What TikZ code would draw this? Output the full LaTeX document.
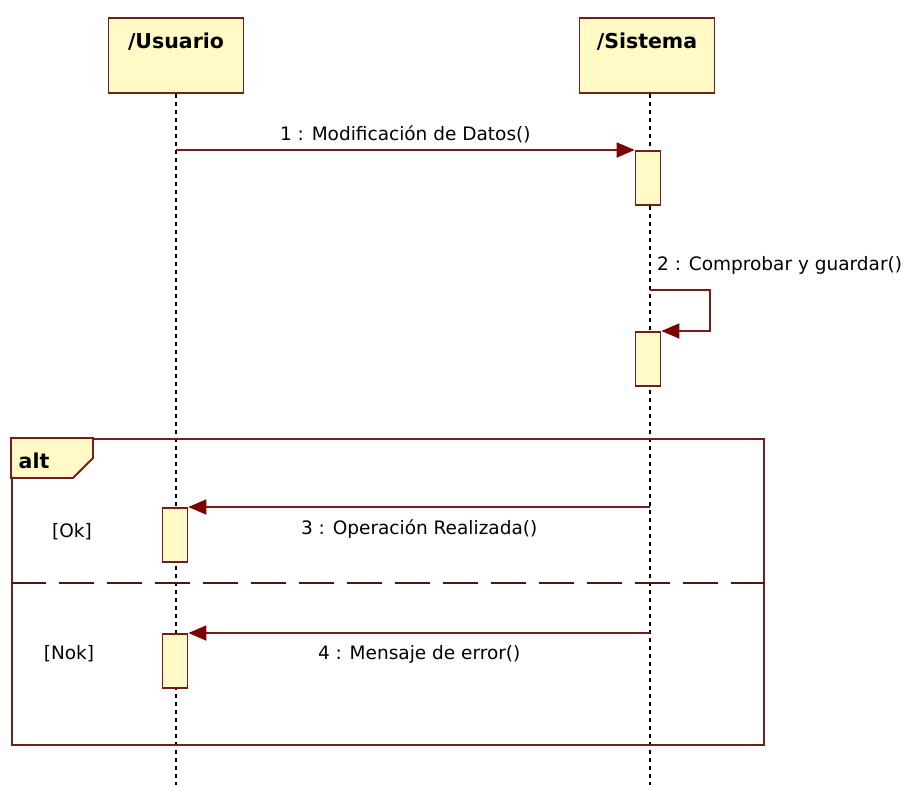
\documentclass[tikz,border=0pt]{standalone}
\usepackage{fontspec}
\setmainfont{DejaVu Sans}
\usetikzlibrary{arrows.meta, positioning, calc}
\definecolor{BoxYellow}{RGB}{255,250,198}
\definecolor{LineMaroon}{RGB}{115,30,30}
\definecolor{TipMaroon}{RGB}{125,0,0}
\tikzset{
  lifebox/.style={draw=LineMaroon, fill=BoxYellow, line width=1.8pt,
    minimum width=135pt, minimum height=75pt, anchor=north, inner sep=0pt},
  lifeline/.style={draw=black, line width=1.6pt, dash pattern=on 4pt off 4pt},
  actbox/.style={draw=LineMaroon, fill=BoxYellow, line width=1.8pt,
    minimum width=25pt, minimum height=54pt, anchor=north, inner sep=0pt},
  msg/.style={draw=LineMaroon, line width=1.8pt,
    -{Triangle[length=18pt, width=15pt, fill=TipMaroon, color=TipMaroon]}},
  msglabel/.style={font=\fontsize{18.5}{22}\selectfont, inner sep=2pt},
  titlefont/.style={font=\fontsize{20.5}{24}\selectfont\bfseries},
  altframe/.style={draw=LineMaroon, line width=1.8pt, anchor=north west,
    minimum width=752pt, minimum height=306pt, inner sep=0pt},
  guard/.style={font=\fontsize{18.5}{22}\selectfont}
}
\begin{document}
\begin{tikzpicture}[x=1pt, y=-1pt]
  \useasboundingbox (0,0) rectangle (916,785);

  % participants
  \node[lifebox, label={[titlefont, anchor=north, yshift=-12pt]north:/Usuario}] (usr) at (176,17) {};
  \node[lifebox, label={[titlefont, anchor=north, yshift=-12pt]north:/Sistema}] (sys) at (647,17) {};
  \coordinate (usrEnd) at (176,785);
  \coordinate (sysEnd) at (650,785);
  \draw[lifeline] (usr.south -| usrEnd) -- (usrEnd);
  \draw[lifeline] (sys.south -| sysEnd) -- (sysEnd);

  % alt fragment
  \node[altframe] (alt) at (11,438) {};
  \draw[draw=LineMaroon, line width=1.8pt, fill=BoxYellow]
    (alt.north west) -- ++(82,0) -- ++(0,20) -- ++(-20,20) -- ++(-62,0) -- cycle;
  \node[titlefont] (altlbl) at (34,461) {alt};
  \draw[draw=LineMaroon!70!black, line width=1.8pt, dash pattern=on 35pt off 13pt]
    (alt.west |- 0,583) -- (alt.east |- 0,583);
  \node[guard] (ok) at (72,532) {[Ok]};
  \node[guard] (nok) at (69,654) {[Nok]};

  % activations
  \node[actbox] (a1) at (648,150) {};
  \node[actbox] (a2) at (648,331) {};
  \node[actbox] (a3) at (175,507) {};
  \node[actbox] (a4) at (175,633) {};

  % messages
  \draw[msg] (usrEnd |- a1.north west) -- (a1.north west)
    node[msglabel, midway, above=4pt] {1 : Modificación de Datos()};
  \coordinate (self2) at (650,290);
  \draw[msg] (self2) -- ++(60,0) |- (a2.north east);
  \node[msglabel, anchor=base west] (l2) at (655,270) {2 : Comprobar y guardar()};
  \draw[msg] (sysEnd |- a3.north east) -- (a3.north east)
    node[msglabel, midway, below=10pt] {3 : Operación Realizada()};
  \draw[msg] (sysEnd |- a4.north east) -- (a4.north east)
    node[msglabel, midway, below=10pt] {4 : Mensaje de error()};
\end{tikzpicture}
\end{document}
